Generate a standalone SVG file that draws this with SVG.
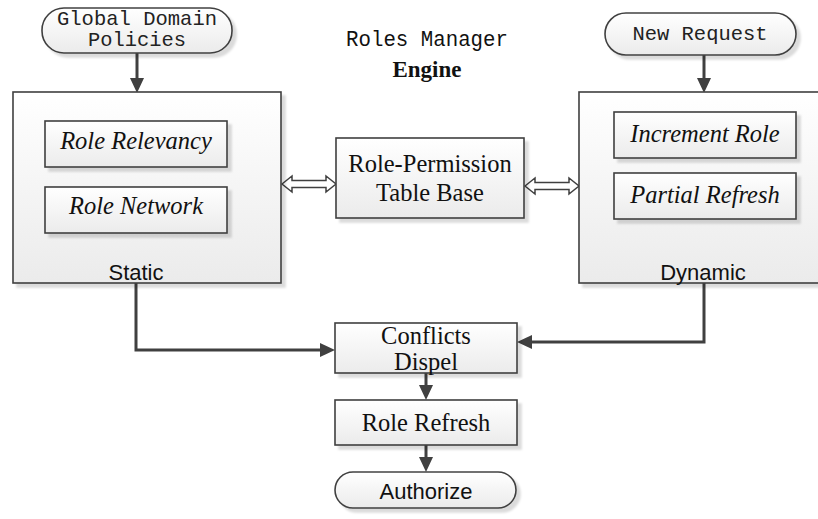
<svg xmlns="http://www.w3.org/2000/svg" width="818" height="519" viewBox="0 0 818 519">
<defs>
<linearGradient id="g" x1="0" y1="0" x2="0" y2="1">
<stop offset="0" stop-color="#ffffff"/>
<stop offset="1" stop-color="#ebebeb"/>
</linearGradient>
<filter id="sh" x="-10%" y="-10%" width="130%" height="130%">
<feDropShadow dx="4" dy="4" stdDeviation="1.2" flood-color="#000" flood-opacity="0.14"/>
</filter>
</defs>
<style>
.box{fill:url(#g);stroke:#404040;stroke-width:1.6;filter:url(#sh)}
.con{fill:none;stroke:#404040;stroke-width:3}
.head{fill:#404040}
.dbl{fill:#fff;stroke:#404040;stroke-width:1.5;stroke-linejoin:miter}
.mono{font-family:"Liberation Mono","DejaVu Sans Mono",monospace;font-size:21px;fill:#222}
.serif{font-family:"Liberation Serif","Times New Roman",serif;font-size:24.5px;fill:#111}
.it{font-style:italic}
.sans{font-family:"Liberation Sans",Arial,sans-serif;font-size:22px;fill:#111}
text{text-anchor:middle}
</style>

<g id="connectors">
<path class="con" d="M137,53 V80"/>
<path class="head" d="M130,78 L144,78 L137,93 z"/>
<path class="con" d="M704,55 V80"/>
<path class="head" d="M697,78 L711,78 L704,93 z"/>
<path class="con" d="M136,283 V350 H322"/>
<path class="head" d="M320,343 L320,357 L335,350 z"/>
<path class="con" d="M704,283 V342 H530"/>
<path class="head" d="M532,335 L532,349 L517,342 z"/>
<path class="con" d="M426,373 V388"/>
<path class="head" d="M419,385 L433,385 L426,400 z"/>
<path class="con" d="M426,445 V460"/>
<path class="head" d="M419,457 L433,457 L426,472 z"/>
<polygon class="dbl" points="282,184 292,176 292,180.5 326,180.5 326,176 336,184 326,192 326,187.5 292,187.5 292,192"/>
<polygon class="dbl" points="525,186 535,178 535,182.5 569,182.5 569,178 579,186 569,194 569,189.5 535,189.5 535,194"/>
</g>

<g id="static">
<rect class="box" x="13" y="92" width="268" height="191"/>
<text class="sans" x="136" y="280">Static</text>
</g>
<g id="role-relevancy">
<rect class="box" x="45" y="121" width="182" height="46"/>
<text class="serif it" x="136" y="149">Role Relevancy</text>
</g>
<g id="role-network">
<rect class="box" x="45" y="187" width="182" height="46"/>
<text class="serif it" x="136" y="214">Role Network</text>
</g>

<g id="dynamic">
<rect class="box" x="579" y="92" width="268" height="191"/>
<text class="sans" x="703" y="280">Dynamic</text>
</g>
<g id="increment-role">
<rect class="box" x="614" y="112" width="182" height="46"/>
<text class="serif it" x="705" y="142">Increment Role</text>
</g>
<g id="partial-refresh">
<rect class="box" x="614" y="173" width="182" height="46"/>
<text class="serif it" x="705" y="203">Partial Refresh</text>
</g>

<g id="role-permission">
<rect class="box" x="336" y="138" width="188" height="80"/>
<text class="serif" x="430" y="172">Role-Permission</text>
<text class="serif" x="430" y="201">Table Base</text>
</g>

<g id="global-domain-policies">
<rect class="box" x="42" y="8" width="190" height="45" rx="22" ry="22"/>
<text class="mono" x="137" y="25" textLength="160" lengthAdjust="spacingAndGlyphs">Global Domain</text>
<text class="mono" x="137" y="46" textLength="98" lengthAdjust="spacingAndGlyphs">Policies</text>
</g>

<g id="new-request">
<rect class="box" x="605" y="13" width="191" height="42" rx="21" ry="21"/>
<text class="mono" x="700" y="40" textLength="135" lengthAdjust="spacingAndGlyphs">New Request</text>
</g>

<g id="title">
<text class="mono" x="427" y="46" textLength="162" lengthAdjust="spacingAndGlyphs" style="font-size:22px;fill:#111">Roles Manager</text>
<text x="427" y="77" style="font-family:'Liberation Serif','Times New Roman',serif;font-size:23px;font-weight:bold;fill:#111">Engine</text>
</g>

<g id="conflicts-dispel">
<rect class="box" x="335" y="323" width="182" height="50"/>
<text class="serif" x="426" y="344">Conflicts</text>
<text class="serif" x="426" y="370">Dispel</text>
</g>

<g id="role-refresh">
<rect class="box" x="335" y="400" width="182" height="45"/>
<text class="serif" x="426" y="431">Role Refresh</text>
</g>

<g id="authorize">
<rect class="box" x="335" y="472" width="181" height="36" rx="18" ry="18"/>
<text class="sans" x="426" y="499">Authorize</text>
</g>
</svg>
